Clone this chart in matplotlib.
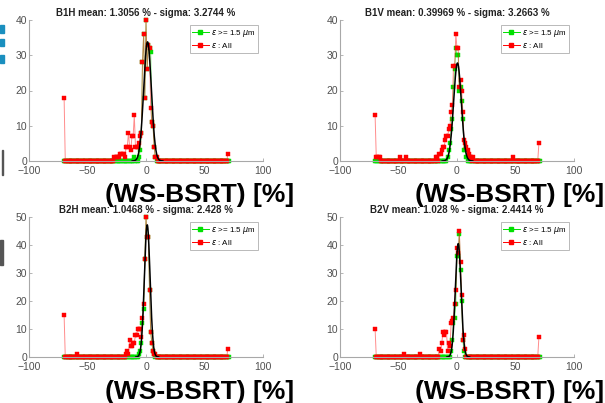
import numpy as np
import matplotlib
matplotlib.use('Agg')
import matplotlib.pyplot as plt
from matplotlib.patches import Rectangle

plt.rcParams['font.family'] = ['Liberation Sans', 'DejaVu Sans']
plt.rcParams['mathtext.fontset'] = 'dejavusans'

# histogram bins (non-zero bins only, rest are 0)
b1h_all_x = [-70, -27, -26, -25, -24, -23, -22, -21, -20, -19, -18, -17, -16, -15, -14, -13, -12, -11, -10,
             -9, -8, -7, -6, -5, -4, -3, -2, -1, 0, 1, 2, 3, 4, 5, 6, 7, 8, 9, 70]
b1h_all_n = [18, 1, 1, 1, 1, 1, 2, 2, 2, 2, 1, 4, 4, 8, 4, 3, 7, 7, 13,
             4, 4, 4, 5, 7, 8, 28, 36, 18, 40, 26, 33, 32, 15, 11, 10, 4, 1, 1, 2]
b1h_sel_x = [-10, -6, -5, -4, -3, -2, -1, 0, 1, 2, 3, 4, 5, 6, 7, 8]
b1h_sel_n = [1, 1, 3, 8, 28, 36, 18, 40, 26, 33, 32, 31, 11, 10, 4, 1]
b1h_fit = (1.3056, 3.2744, 33.8)

b1v_all_x = [-70, -69, -68, -67, -66, -49, -44, -18, -17, -15, -14, -13, -12, -11, -10, -9, -8, -7, -6,
             -5, -4, -3, -2, -1, 0, 1, 2, 3, 4, 5, 6, 7, 8, 9, 10, 11, 12, 14, 48, 70]
b1v_all_n = [13, 1, 1, 1, 1, 1, 1, 1, 1, 2, 2, 3, 4, 4, 6, 7, 7, 9, 10,
             14, 16, 27, 27, 36, 32, 32, 21, 23, 20, 14, 6, 5, 4, 3, 2, 1, 1, 1, 1, 5]
b1v_sel_x = [-8, -7, -6, -5, -4, -3, -2, -1, 0, 1, 2, 3, 4, 5, 6, 7, 8]
b1v_sel_n = [1, 3, 5, 9, 12, 21, 26, 32, 30, 30, 20, 21, 17, 12, 3, 3, 1]
b1v_fit = (0.39969, 3.2663, 27.8)

b2h_all_x = [-70, -59, -17, -16, -15, -14, -13, -12, -11, -10, -9, -8, -7, -6, -5, -4, -3, -2, -1,
             0, 1, 2, 3, 4, 5, 6, 7, 8, 70]
b2h_all_n = [15, 1, 1, 2, 1, 6, 4, 4, 5, 5, 8, 8, 10, 10, 10, 7, 14, 19, 35,
             50, 43, 43, 24, 9, 5, 2, 1, 1, 3]
b2h_sel_x = [-6, -5, -4, -3, -2, -1, 0, 1, 2, 3, 4, 5, 6, 7]
b2h_sel_n = [1, 2, 5, 12, 17, 35, 50, 43, 43, 24, 9, 5, 2, 1]
b2h_fit = (1.0468, 2.428, 47.2)

b2v_all_x = [-70, -45, -32, -15, -14, -13, -12, -11, -10, -9, -8, -7, -6, -5, -4, -3, -2, -1,
             0, 1, 2, 3, 4, 5, 6, 7, 70]
b2v_all_n = [10, 1, 1, 3, 2, 5, 9, 8, 9, 9, 2, 5, 4, 12, 13, 14, 19, 24,
             39, 37, 45, 34, 22, 6, 8, 3, 7]
b2v_sel_x = [-5, -4, -3, -2, -1, 0, 1, 2, 3, 4, 5, 6]
b2v_sel_n = [2, 6, 12, 14, 19, 36, 36, 44, 31, 20, 6, 2]
b2v_fit = (1.028, 2.4414, 40.5)

titles = ['B1H mean: 1.3056 % - sigma: 3.2744 %', 'B1V mean: 0.39969 % - sigma: 3.2663 %',
          'B2H mean: 1.0468 % - sigma: 2.428 %', 'B2V mean: 1.028 % - sigma: 2.4414 %']
ytops = [40, 40, 50, 50]

panels = [(b1h_all_x, b1h_all_n, b1h_sel_x, b1h_sel_n, b1h_fit),
          (b1v_all_x, b1v_all_n, b1v_sel_x, b1v_sel_n, b1v_fit),
          (b2h_all_x, b2h_all_n, b2h_sel_x, b2h_sel_n, b2h_fit),
          (b2v_all_x, b2v_all_n, b2v_sel_x, b2v_sel_n, b2v_fit)]


def full_hist(xs, ns, lo, hi):
    bins = np.arange(lo, hi + 1)
    counts = np.zeros(len(bins))
    for x, n in zip(xs, ns):
        counts[x - lo] = n
    return bins, counts


W, H = 605, 403
fig = plt.figure(figsize=(W / 100, H / 100), dpi=100)

# axes boxes in pixels: left, top, right, bottom
boxes = [(29, 20, 263, 161), (340, 20, 574, 161), (29, 217, 263, 357), (340, 217, 574, 357)]
red = '#ff0000'
green = '#00e000'

for i, (ax_x, ax_n, sel_x, sel_n, fit) in enumerate(panels):
    l, t, r, b = boxes[i]
    ax = fig.add_axes([l / W, 1 - b / H, (r - l) / W, (b - t) / H])
    gx, gn = full_hist(sel_x, sel_n, -70, 71)
    rx, rn = full_hist(ax_x, ax_n, -70, 70)
    ax.plot(gx, gn, '-', color=green, lw=0.7, alpha=0.5, clip_on=False)
    ax.plot(gx, gn, 's', color=green, ms=3.4, mew=0.3, mec=green, clip_on=False)
    ax.plot(rx, rn, '-', color=red, lw=0.7, alpha=0.45, clip_on=False)
    ax.plot(rx, rn, 's', color=red, ms=3.4, mew=0.3, mec=red, clip_on=False)
    # gaussian fit, only drawn around the peak
    mu, sig, amp = fit
    xf = np.linspace(mu - 4 * sig, mu + 4 * sig, 400)
    ax.plot(xf, amp * np.exp(-(xf - mu) ** 2 / (2 * sig ** 2)), color='black', lw=1.1, zorder=3)

    ax.set_xlim(-100, 100)
    ax.set_ylim(0, ytops[i])
    ax.set_xticks([-100, -50, 0, 50, 100])
    ax.set_yticks(np.arange(0, ytops[i] + 1, 10))
    for s in ['top', 'right']:
        ax.spines[s].set_visible(False)
    for s in ['left', 'bottom']:
        ax.spines[s].set_color('#a8a8a8')
        ax.spines[s].set_linewidth(0.8)
    ax.tick_params(direction='in', length=2.5, width=0.6, color='#a8a8a8',
                   labelsize=7.5, labelcolor='#505050')
    ax.tick_params(axis='y', pad=1.5)
    ax.tick_params(axis='x', pad=3.5)
    ax.set_title(titles[i], fontsize=7, fontweight='bold', color='#222222', pad=3)

    # legend with line + marker handles
    h_g, = ax.plot([], [], '-s', color=green, lw=0.7, ms=3)
    h_r, = ax.plot([], [], '-s', color=red, lw=0.7, ms=3)
    leg = ax.legend([h_g, h_r], [r'$\epsilon$ >= 1.5 $\mu$m', r'$\epsilon$ : All'],
                    loc='upper right', bbox_to_anchor=(0.98, 0.965), borderaxespad=0,
                    fontsize=5.8, frameon=True, fancybox=False, handlelength=2.0,
                    handletextpad=0.3, borderpad=0.35, labelspacing=0.25)
    leg.get_frame().set_edgecolor('#a8a8a8')
    leg.get_frame().set_linewidth(0.7)

# big axis labels from the slide
for (xp, yp) in [(105, 183), (415, 183), (105, 380), (415, 380)]:
    fig.text(xp / W, 1 - yp / H, '(WS-BSRT) [%]', fontsize=19, fontweight='bold',
             color='black', ha='left', va='top')

# slide leftovers at the left edge
for (x0, y0, w, h, c) in [(0, 25, 4, 8, '#1a8fbf'), (0, 39, 4, 7, '#1a8fbf'), (0, 55, 4, 8, '#1a8fbf'),
                          (2, 150, 1, 25, '#555555'), (0, 240, 3, 25, '#555555')]:
    fig.patches.append(Rectangle((x0 / W, 1 - (y0 + h) / H), w / W, h / H,
                                 transform=fig.transFigure, color=c, zorder=5))

fig.savefig('out.png', dpi=100)
